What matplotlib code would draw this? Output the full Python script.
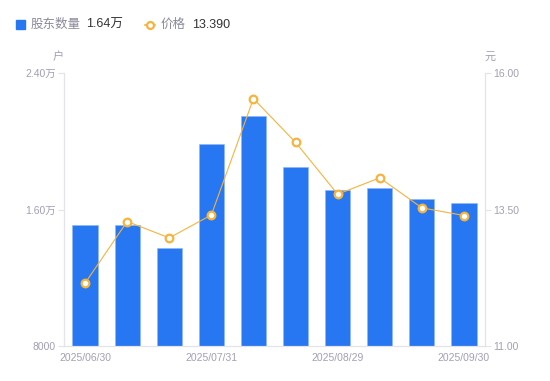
import matplotlib
matplotlib.use('Agg')
import matplotlib.pyplot as plt
from matplotlib.lines import Line2D
from matplotlib.patches import Rectangle

plt.rcParams['font.family'] = ['Liberation Sans', 'Noto Sans CJK SC', 'DejaVu Sans']

# data
dates = ['2025/06/30', '', '', '2025/07/31', '', '', '2025/08/29', '', '', '2025/09/30']
holders = [15090, 15090, 13740, 19840, 21480, 18470, 17140, 17240, 16600, 16360]
price = [12.15, 13.28, 12.98, 13.40, 15.53, 14.73, 13.78, 14.08, 13.53, 13.39]
left_ticks = [8000, 16000, 24000]
left_labels = ['8000', '1.60万', '2.40万']
right_ticks = [11.0, 13.5, 16.0]

blue = '#2777f2'
orange = '#f7b33c'
grey = '#a0a0b4'
axis_c = '#e3e3e8'

fig = plt.figure(figsize=(5.5, 3.81), dpi=100)
ax = fig.add_axes([64/550, 35/381, 421/550, 273/381])
x = list(range(len(holders)))
ax.bar(x, holders, width=0.6, color=blue, edgecolor='#8fb6f5', linewidth=0.4, zorder=2)
ax.set_ylim(8000, 24000)
ax.set_xlim(-0.5, 9.5)
ax.set_yticks(left_ticks)
ax.set_yticklabels(left_labels)
ax.set_xticks(x)
ax.set_xticklabels(dates)

ax2 = ax.twinx()
ax2.plot(x, price, color=orange, lw=0.8, marker='o', ms=5.5, mfc='white',
         mec=orange, mew=1.6, zorder=3)
ax2.set_ylim(11, 16)
ax2.set_yticks(right_ticks)
ax2.set_yticklabels(['%.2f' % t for t in right_ticks])

for a in (ax, ax2):
    for s in a.spines.values():
        s.set_color(axis_c)
    a.spines['top'].set_visible(False)
    a.tick_params(colors=axis_c, labelcolor=grey, labelsize=7.5, length=4)
ax.tick_params(axis='x', length=0, pad=5)
ax.tick_params(axis='y', pad=2)
ax2.tick_params(axis='y', pad=2)

fig.text(58/550, 1 - 57/381, '户', color=grey, fontsize=8, ha='center', va='center')
fig.text(490/550, 1 - 57/381, '元', color=grey, fontsize=8, ha='center', va='center')

# legend row
ly = 1 - 25/381
fig.patches.append(Rectangle((16/550, 1 - 29/381), 9/550, 9/381, transform=fig.transFigure,
                             color=blue, figure=fig))
fig.text(31/550, ly, '股东数量', color='#8a8a9a', fontsize=9, va='center')
fig.text(86/550, ly, '1.64万', color='#333333', fontsize=9, va='center')
fig.lines.append(Line2D([145/550, 155/550], [ly, ly], transform=fig.transFigure,
                        color=orange, lw=1.2, figure=fig))
fig.lines.append(Line2D([150/550], [ly], transform=fig.transFigure, color=orange,
                        marker='o', ms=5, mfc='white', mew=1.6, figure=fig))
fig.text(161/550, ly, '价格', color='#8a8a9a', fontsize=9, va='center')
fig.text(192/550, ly, '13.390', color='#333333', fontsize=9, va='center')

fig.savefig('out.png', dpi=100)
